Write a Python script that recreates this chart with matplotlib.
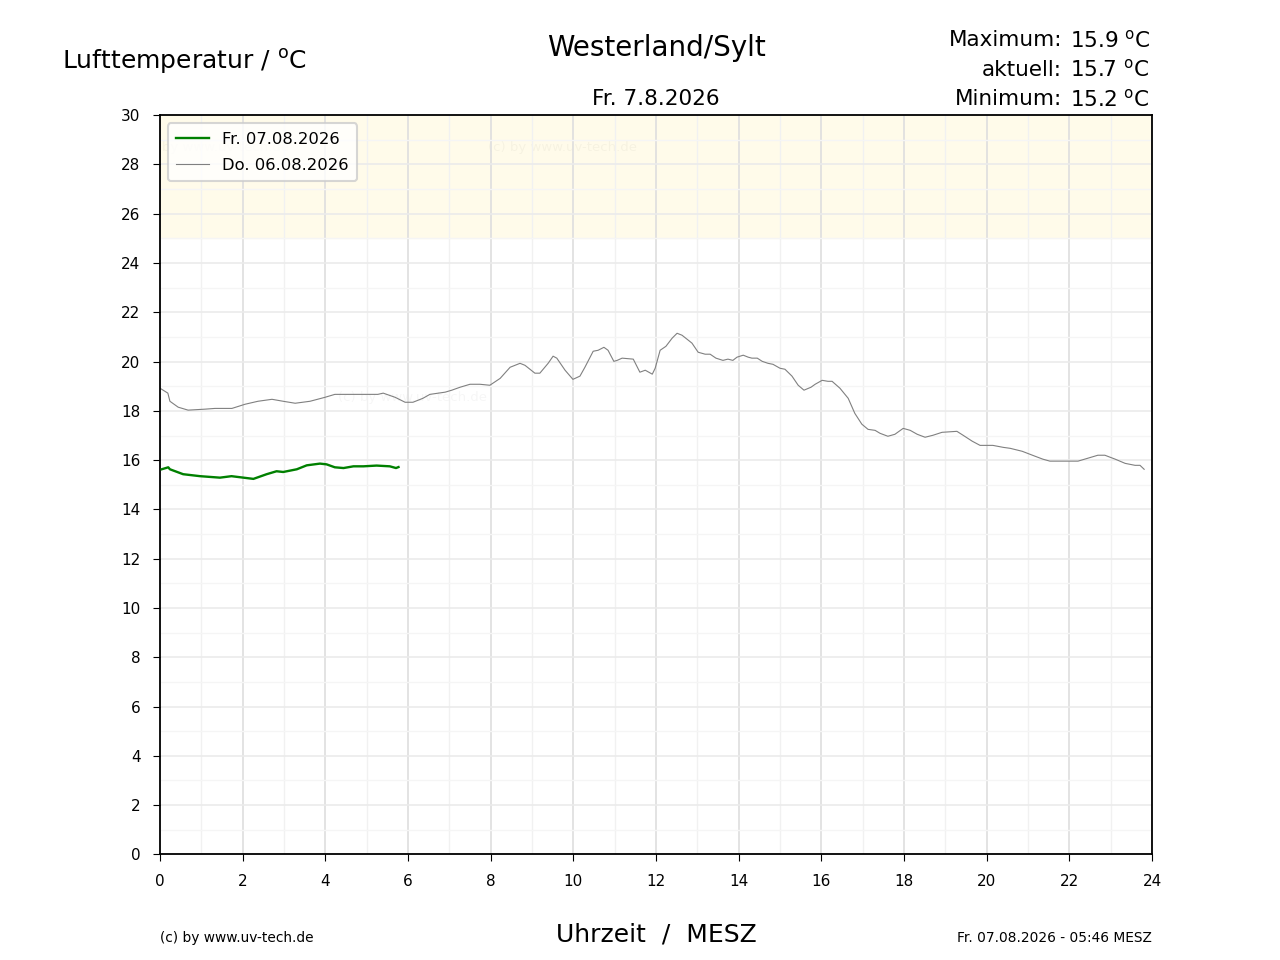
import numpy as np
import matplotlib
matplotlib.use("Agg")
import matplotlib.pyplot as plt
from matplotlib.ticker import MultipleLocator

# Fr. 07.08.2026 (heute)
today_h = [0.04, 0.20, 0.24, 0.56, 0.97, 1.45, 1.73, 2.26, 2.58, 2.82, 2.98, 3.31,
           3.55, 3.87, 4.03, 4.23, 4.44, 4.68, 4.92, 5.24, 5.56, 5.71, 5.77]
today_t = [15.63, 15.71, 15.63, 15.43, 15.35, 15.29, 15.35, 15.24, 15.43, 15.55, 15.52, 15.63,
           15.79, 15.86, 15.83, 15.71, 15.68, 15.75, 15.75, 15.78, 15.75, 15.68, 15.72]

# Do. 06.08.2026 (gestern)
yest_h = [0.00, 0.19, 0.24, 0.44, 0.68, 1.09, 1.33, 1.74, 2.06, 2.37, 2.71, 2.98, 3.27, 3.63,
          3.99, 4.23, 4.84, 5.27, 5.40, 5.69, 5.93, 6.12, 6.36, 6.53, 6.90, 7.06, 7.26, 7.50,
          7.74, 7.98, 8.23, 8.47, 8.71, 8.83, 9.07, 9.19, 9.39, 9.51, 9.60, 9.80, 9.99, 10.16,
          10.28, 10.48, 10.60, 10.74, 10.84, 10.98, 11.06, 11.18, 11.45, 11.61, 11.74, 11.91,
          11.98, 12.10, 12.24, 12.39, 12.51, 12.63, 12.87, 13.02, 13.19, 13.31, 13.45, 13.62,
          13.74, 13.86, 13.96, 14.11, 14.23, 14.32, 14.45, 14.57, 14.71, 14.83, 15.00, 15.12,
          15.29, 15.44, 15.58, 15.75, 15.85, 16.02, 16.16, 16.26, 16.45, 16.65, 16.81, 16.98,
          17.13, 17.30, 17.42, 17.61, 17.78, 17.98, 18.15, 18.32, 18.51, 18.70, 18.92, 19.28,
          19.43, 19.65, 19.84, 20.15, 20.40, 20.57, 20.86, 21.17, 21.36, 21.53, 21.90, 22.21,
          22.45, 22.69, 22.86, 23.11, 23.35, 23.59, 23.71, 23.81]
yest_t = [18.92, 18.72, 18.39, 18.15, 18.03, 18.07, 18.10, 18.10, 18.27, 18.39, 18.47, 18.39,
          18.31, 18.39, 18.55, 18.67, 18.67, 18.67, 18.72, 18.55, 18.35, 18.35, 18.51, 18.67,
          18.76, 18.84, 18.96, 19.08, 19.08, 19.04, 19.32, 19.77, 19.93, 19.85, 19.53, 19.53,
          19.93, 20.22, 20.14, 19.65, 19.28, 19.41, 19.77, 20.42, 20.46, 20.58, 20.46, 20.01,
          20.05, 20.14, 20.10, 19.57, 19.65, 19.49, 19.73, 20.46, 20.62, 20.95, 21.15, 21.07,
          20.75, 20.38, 20.30, 20.30, 20.14, 20.05, 20.10, 20.05, 20.18, 20.26, 20.18, 20.14,
          20.14, 20.01, 19.93, 19.89, 19.73, 19.69, 19.41, 19.04, 18.84, 18.96, 19.08, 19.24,
          19.20, 19.20, 18.92, 18.51, 17.90, 17.46, 17.25, 17.21, 17.09, 16.97, 17.05, 17.29,
          17.21, 17.05, 16.93, 17.01, 17.13, 17.17, 17.01, 16.77, 16.60, 16.60, 16.52, 16.48,
          16.36, 16.16, 16.04, 15.96, 15.96, 15.96, 16.08, 16.20, 16.20, 16.04, 15.87, 15.79,
          15.79, 15.63]

station = "Westerland/Sylt"
day_label = "Fr. 7.8.2026"
stats_names = ["Maximum:", "aktuell:", "Minimum:"]
stats_vals = ["15.9", "15.7", "15.2"]
legend_labels = ["Fr. 07.08.2026", "Do. 06.08.2026"]
stamp = "Fr. 07.08.2026 - 05:46 MESZ"
copyright_txt = "(c) by www.uv-tech.de"
unit = r"$^{\mathrm{o}}$C"

fig = plt.figure(figsize=(12.8, 9.6), dpi=100)
ax = fig.add_axes([0.125, 0.11, 0.775, 0.77])

ax.axhspan(25, 30, color="#fffbea", zorder=0)

ax.xaxis.set_major_locator(MultipleLocator(2))
ax.xaxis.set_minor_locator(MultipleLocator(1))
ax.yaxis.set_major_locator(MultipleLocator(2))
ax.yaxis.set_minor_locator(MultipleLocator(1))
ax.grid(axis="x", which="major", color="#dedede", linewidth=1.2, zorder=1)
ax.grid(axis="x", which="minor", color="#f1f1f1", linewidth=1.0, zorder=1)
ax.grid(axis="y", which="major", color="#ebebeb", linewidth=1.2, zorder=1)
ax.grid(axis="y", which="minor", color="#f5f5f5", linewidth=1.0, zorder=1)
ax.tick_params(which="minor", length=0)
ax.tick_params(which="major", labelsize=11, length=5, pad=9)

# watermarks
for wx, wy in [(-0.48, 28.7), (7.94, 28.7), (4.31, 18.55)]:
    ax.text(wx, wy, copyright_txt, fontsize=9.5, color="#000000", alpha=0.035,
            va="center", ha="left", clip_on=True, zorder=1)

ax.plot(today_h, today_t, color="green", linewidth=1.7, label=legend_labels[0], zorder=3)
ax.plot(yest_h, yest_t, color="gray", linewidth=0.8, label=legend_labels[1], zorder=2)

ax.set_xlim(0, 24)
ax.set_ylim(0, 30)
for s in ax.spines.values():
    s.set_linewidth(1.3)

leg = ax.legend(loc="upper left", fontsize=11.8, framealpha=0.8, edgecolor="#cccccc",
                fancybox=True, borderpad=0.5, labelspacing=0.7)
leg.get_frame().set_linewidth(1.5)

fig.text(656 / 1280, 1 - 48 / 960, station, ha="center", va="center", fontsize=20)
fig.text(656 / 1280, 1 - 99 / 960, day_label, ha="center", va="center", fontsize=15.5)
fig.text(62 / 1280, 1 - 62 / 960, "Lufttemperatur / " + unit, ha="left", va="center", fontsize=18)

for i, (n, v) in enumerate(zip(stats_names, stats_vals)):
    y = 1 - (40 + i * 29.5) / 960
    fig.text(1062 / 1280, y, n, ha="right", va="center", fontsize=15.5)
    fig.text(1070 / 1280, y, v + " " + unit, ha="left", va="center", fontsize=15.5)

fig.text(656 / 1280, 1 - 935 / 960, "Uhrzeit  /  MESZ", ha="center", va="center", fontsize=18)
fig.text(160 / 1280, 1 - 938 / 960, copyright_txt, ha="left", va="center", fontsize=9.9)
fig.text(1152 / 1280, 1 - 938 / 960, stamp, ha="right", va="center", fontsize=9.9)

fig.savefig("out.png", dpi=100)
